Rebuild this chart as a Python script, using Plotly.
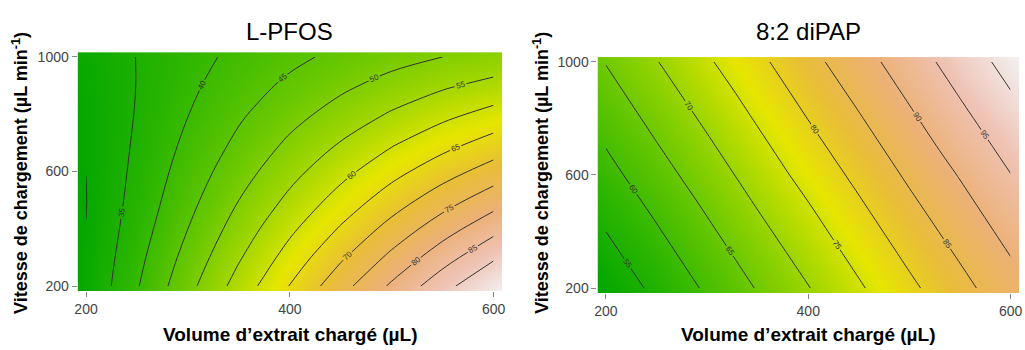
import plotly.graph_objects as go

# ---- data (response surfaces on a 9 x 9 grid) ----
volume = [200, 250, 300, 350, 400, 450, 500, 550, 600]          # µL (x)
vitesse = [200, 300, 400, 500, 600, 700, 800, 900, 1000]        # µL/min (y)

# L-PFOS, rows = vitesse (200 -> 1000), columns = volume (200 -> 600)
z_pfos = [
    [30.5, 39.6, 48.5, 57.0, 65.2, 73.2, 80.8, 88.2, 95.3],
    [30.25, 38.6, 46.7, 54.5, 62.0, 69.3, 76.2, 82.9, 89.3],
    [30.05, 37.6, 45.0, 52.2, 59.0, 65.5, 71.8, 77.8, 83.5],
    [29.9, 36.8, 43.5, 50.0, 56.1, 61.9, 67.5, 72.8, 77.8],
    [30.02, 36.2, 42.2, 47.9, 53.4, 58.5, 63.4, 67.9, 72.2],
    [30.2, 35.7, 41.0, 46.0, 50.8, 55.2, 59.4, 63.2, 66.8],
    [30.5, 35.3, 39.9, 44.3, 48.3, 52.0, 55.5, 58.7, 61.6],
    [30.9, 35.1, 39.0, 42.7, 46.0, 49.0, 51.8, 54.3, 56.5],
    [31.6, 35.1, 38.3, 41.2, 43.8, 46.2, 48.2, 50.0, 51.5],
]

# 8:2 diPAP
z_dipap = [
    [51.6, 56.1, 60.7, 65.3, 69.8, 74.4, 79.0, 83.5, 88.1],
    [53.3, 57.8, 62.4, 67.0, 71.5, 76.1, 80.7, 85.2, 89.8],
    [55.0, 59.5, 64.1, 68.7, 73.2, 77.8, 82.4, 86.9, 91.5],
    [56.7, 61.2, 65.8, 70.4, 74.9, 79.5, 84.1, 88.6, 93.2],
    [58.4, 63.0, 67.5, 72.1, 76.7, 81.2, 85.8, 90.3, 94.9],
    [60.1, 64.7, 69.2, 73.8, 78.4, 82.9, 87.5, 92.1, 96.6],
    [61.8, 66.4, 70.9, 75.5, 80.1, 84.6, 89.2, 93.8, 98.3],
    [63.5, 68.1, 72.6, 77.2, 81.8, 86.3, 90.9, 95.5, 100.0],
    [65.2, 69.8, 74.4, 78.9, 83.5, 88.0, 92.6, 97.2, 101.7],
]

titles = ["L-PFOS", "8:2 diPAP"]
x_title = "Volume d\u2019extrait chargé (µL)"
y_title = "Vitesse de chargement (µL min<sup>-1</sup>)"
x_ticks = [200, 400, 600]
y_ticks = [200, 600, 1000]

# R terrain.colors palette
terrain = [
    [0.0, "#00A600"], [0.125, "#2DB600"], [0.25, "#63C600"], [0.375, "#A0D600"],
    [0.5, "#E6E600"], [0.625, "#E9BD3A"], [0.75, "#ECB176"], [0.875, "#EFC2B3"],
    [1.0, "#F2F2F2"],
]

W, H = 1025, 350
FONT = "Liberation Sans, Arial, sans-serif"

# the image cells of the reference reach half a cell beyond the outer grid values
X_RANGE = [191.7, 608.3]
Y_RANGE = [183.3, 1016.7]
x_fill = [X_RANGE[0]] + volume[1:-1] + [X_RANGE[1]]
y_fill = [Y_RANGE[0]] + vitesse[1:-1] + [Y_RANGE[1]]

fig = go.Figure()

panels = [
    dict(z=z_pfos, zmin=29.8, zmax=95.3, start=30, end=90, xa="x", ya="y"),
    dict(z=z_dipap, zmin=51.6, zmax=101.7, start=55, end=100, xa="x2", ya="y2"),
]
for p in panels:
    # colour fill
    fig.add_trace(go.Contour(
        x=x_fill, y=y_fill, z=p["z"],
        colorscale=terrain, zauto=False, zmin=p["zmin"], zmax=p["zmax"],
        showscale=False,
        contours=dict(coloring="heatmap", start=p["start"], end=p["end"], size=5,
                      showlines=False, showlabels=False),
        line=dict(width=0),
        xaxis=p["xa"], yaxis=p["ya"], hoverinfo="skip",
    ))
    # contour lines with labels
    fig.add_trace(go.Contour(
        x=volume, y=vitesse, z=p["z"],
        showscale=False,
        contours=dict(coloring="none", start=p["start"], end=p["end"], size=5,
                      showlabels=True,
                      labelfont=dict(size=8, color="#333333", family=FONT)),
        line=dict(color="#333333", width=1, smoothing=1),
        xaxis=p["xa"], yaxis=p["ya"], hoverinfo="skip",
    ))

# plot areas in pixels (left, right, top, bottom)
left_px = (75, 502, 50, 293)
right_px = (598, 1022, 55, 295)

def dom(px):
    x0, x1, t, b = px
    return [x0 / W, x1 / W], [1 - b / H, 1 - t / H]

lx, ly = dom(left_px)
rx, ry = dom(right_px)

axis_common = dict(
    showgrid=False, zeroline=False, showline=False,
    ticks="outside", ticklen=5, tickwidth=1, tickcolor="#888888",
    tickfont=dict(size=14, color="#444444", family=FONT),
)
fig.update_layout(
    width=W, height=H,
    margin=dict(l=0, r=0, t=0, b=0),
    paper_bgcolor="white", plot_bgcolor="white",
    showlegend=False,
    xaxis=dict(domain=lx, range=X_RANGE, tickvals=x_ticks, anchor="y", **axis_common),
    yaxis=dict(domain=ly, range=Y_RANGE, tickvals=y_ticks, anchor="x", **axis_common),
    xaxis2=dict(domain=rx, range=X_RANGE, tickvals=x_ticks, anchor="y2", **axis_common),
    yaxis2=dict(domain=ry, range=Y_RANGE, tickvals=y_ticks, anchor="x2", **axis_common),
)

ann = []
for (px, t) in [(left_px, titles[0]), (right_px, titles[1])]:
    cx = (px[0] + px[1]) / 2 / W
    ann.append(dict(text=t, x=cx, y=1 - 29 / H, xref="paper", yref="paper",
                    showarrow=False, xanchor="center", yanchor="middle",
                    font=dict(size=24, color="black", family=FONT)))
    ann.append(dict(text="<b>" + x_title + "</b>", x=cx, y=1 - 337 / H, xref="paper", yref="paper",
                    showarrow=False, xanchor="center", yanchor="middle",
                    font=dict(size=19, color="black", family=FONT)))
for xc in (17, 541):
    ann.append(dict(text="<b>" + y_title + "</b>", x=xc / W, y=1 - 173 / H,
                    xref="paper", yref="paper", textangle=-90,
                    showarrow=False, xanchor="center", yanchor="middle",
                    font=dict(size=18, color="black", family=FONT)))
fig.update_layout(annotations=ann)

fig.write_html("out.html", config={"displayModeBar": False},
               post_script="document.body.style.margin='0px';")
